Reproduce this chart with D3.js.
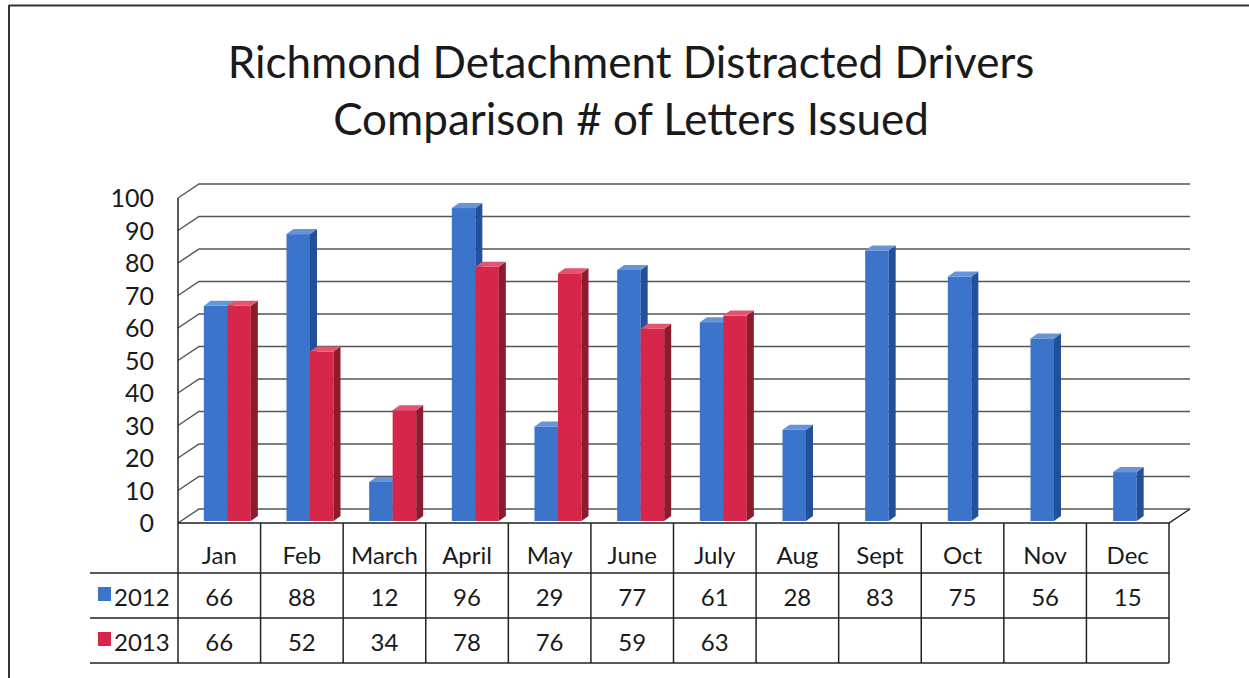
<!DOCTYPE html>
<html>
<head>
    <title></title>
    <script src="https://cdn.jsdelivr.net/npm/d3@7"></script>
    <style>
        body{ margin:0; background:#fff; }
        text{ font-family: Lato, "Open Sans", sans-serif; fill:#1a1a1a; }
        .title{ font-size:44px; }
        .tick{ font-size:25px; }
        .cell{ font-size:24px; }
    </style>
</head>
<body>
<script type="text/javascript">

    var months = ["Jan", "Feb", "March", "April", "May", "June", "July", "Aug", "Sept", "Oct", "Nov", "Dec"],
        series = ["2012", "2013"],
        values2012 = [66, 88, 12, 96, 29, 77, 61, 28, 83, 75, 56, 15],
        values2013 = [66, 52, 34, 78, 76, 59, 63, null, null, null, null, null],
        yTicks = [0, 10, 20, 30, 40, 50, 60, 70, 80, 90, 100],
        titleLines = ["Richmond Detachment Distracted Drivers", "Comparison # of Letters Issued"];

    var w = 1249,
        h = 678,
        depthX = 21,          // back wall offset
        depthY = -14,
        barDX = 7,            // bar's own depth
        barDY = -5,
        barW = 23.5;

    var colors = {
        "2012": {front: "#3b74ca", side: "#22509a", top: "#6694da"},
        "2013": {front: "#d6264a", side: "#8c1b2e", top: "#e25470"}
    };

    var svg = d3.select("body")
            .append("svg")
            .attr("width", w)
            .attr("height", h);

    // page frame
    svg.append("line").attr("x1", 9).attr("y1", 5.5).attr("x2", w).attr("y2", 5.5)
            .attr("stroke", "#333").attr("stroke-width", 2);
    svg.append("line").attr("x1", 9).attr("y1", 5).attr("x2", 9).attr("y2", h)
            .attr("stroke", "#333").attr("stroke-width", 2);

    // title
    svg.selectAll("text.title")
            .data(titleLines)
            .enter()
            .append("text")
            .classed("title", true)
            .attr("x", 631)
            .attr("y", function (d, i) { return 78 + i * 57; })
            .attr("text-anchor", "middle")
            .text(function (d) { return d; });

    var yFront = d3.scaleLinear().domain([0, 100]).range([523, 198]),
        yBar = d3.scaleLinear().domain([0, 100]).range([521, 195]),
        col = d3.scaleBand().domain(months).range([178, 1169]),
        xBar = d3.scaleBand().domain(months).range([186, 1178]),
        xSeries = d3.scaleBand().domain(series).range([-barW, barW]);

    var x0 = 178,
        xBackEnd = 1169 + depthX;

    // grid: side wall diagonals + back wall lines
    var grid = svg.append("g").attr("stroke", "#555").attr("stroke-width", 1.5).attr("fill", "none");
    grid.selectAll("path")
            .data(yTicks)
            .enter()
            .append("path")
            .attr("d", function (d) {
                var yf = yFront(d);
                return "M" + x0 + "," + yf + "L" + (x0 + depthX) + "," + (yf + depthY) + "L" + xBackEnd + "," + (yf + depthY);
            });

    // floor front edge and right diagonal
    svg.append("path")
            .attr("d", "M" + x0 + "," + yFront(0) + "L1169," + yFront(0) + "L" + xBackEnd + "," + (yFront(0) + depthY))
            .attr("stroke", "#222").attr("stroke-width", 1.5).attr("fill", "none");

    // y axis line (runs down through the table)
    svg.append("line").attr("x1", x0).attr("x2", x0).attr("y1", yFront(100)).attr("y2", 663)
            .attr("stroke", "#222").attr("stroke-width", 1.5);

    svg.selectAll("text.tick")
            .data(yTicks)
            .enter()
            .append("text")
            .classed("tick", true)
            .attr("x", 154)
            .attr("y", function (d) { return yFront(d) + 9; })
            .attr("text-anchor", "end")
            .text(function (d) { return d; });

    // bars
    var barData = [];
    months.forEach(function (m, i) {
        [values2012[i], values2013[i]].forEach(function (v, j) {
            if (v != null) barData.push({month: m, series: series[j], value: v});
        });
    });

    var bars = svg.selectAll("g.bar")
            .data(barData)
            .enter()
            .append("g")
            .attr("class", "bar");

    function bx(d) { return xBar(d.month) + xBar.bandwidth() / 2 + xSeries(d.series); }

    bars.append("rect")
            .attr("x", bx)
            .attr("y", function (d) { return yBar(d.value); })
            .attr("width", barW)
            .attr("height", function (d) { return yBar(0) - yBar(d.value); })
            .attr("fill", function (d) { return colors[d.series].front; });

    bars.append("path")
            .attr("d", function (d) {
                var x = bx(d) + barW, yt = yBar(d.value), yb = yBar(0);
                return "M" + x + "," + yb + "L" + x + "," + yt + "L" + (x + barDX) + "," + (yt + barDY) +
                        "L" + (x + barDX) + "," + (yb + barDY) + "Z";
            })
            .attr("fill", function (d) { return colors[d.series].side; });

    bars.append("path")
            .attr("d", function (d) {
                var x = bx(d), yt = yBar(d.value);
                return "M" + x + "," + yt + "L" + (x + barW) + "," + yt + "L" + (x + barW + barDX) + "," + (yt + barDY) +
                        "L" + (x + barDX) + "," + (yt + barDY) + "Z";
            })
            .attr("fill", function (d) { return colors[d.series].top; });

    // data table
    var rowY = [573, 618, 663];
    var table = svg.append("g").attr("stroke", "#222").attr("stroke-width", 1.5);
    table.selectAll("line.h")
            .data(rowY)
            .enter()
            .append("line")
            .attr("x1", 90).attr("x2", 1169)
            .attr("y1", function (d) { return d; })
            .attr("y2", function (d) { return d; });
    table.selectAll("line.v")
            .data(months)
            .enter()
            .append("line")
            .attr("x1", function (d) { return col(d) + col.bandwidth(); })
            .attr("x2", function (d) { return col(d) + col.bandwidth(); })
            .attr("y1", yFront(0))
            .attr("y2", 663);

    svg.selectAll("text.cat")
            .data(months)
            .enter()
            .append("text")
            .classed("cell", true)
            .attr("x", function (d) { return col(d) + col.bandwidth() / 2; })
            .attr("y", 564)
            .attr("text-anchor", "middle")
            .text(function (d) { return d; });

    [values2012, values2013].forEach(function (vals, j) {
        svg.selectAll("text.v" + j)
                .data(vals)
                .enter()
                .append("text")
                .classed("cell", true)
                .attr("x", function (d, i) { return col(months[i]) + col.bandwidth() / 2; })
                .attr("y", 606 + j * 45)
                .attr("text-anchor", "middle")
                .text(function (d) { return d == null ? "" : d; });

        svg.append("rect")
                .attr("x", 98).attr("y", 587 + j * 45)
                .attr("width", 13).attr("height", 14)
                .attr("fill", colors[series[j]].front);
        svg.append("text")
                .classed("cell", true)
                .attr("x", 114).attr("y", 606 + j * 45)
                .text(series[j]);
    });
</script>
</body>
</html>
